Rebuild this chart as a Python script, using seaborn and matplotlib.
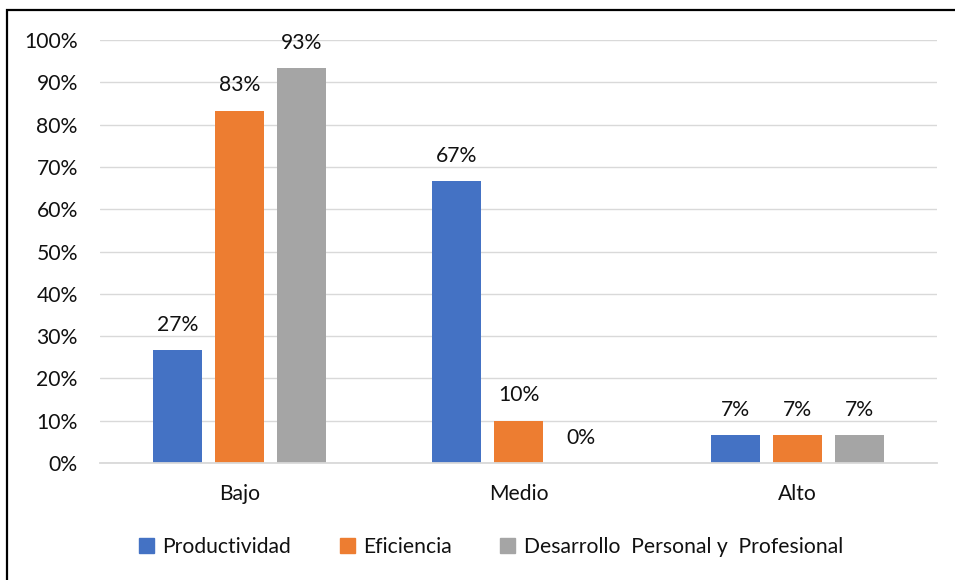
import matplotlib
matplotlib.use("Agg")
import matplotlib.pyplot as plt
import matplotlib.patches as mpatches
from matplotlib.ticker import PercentFormatter
import seaborn as sns
import pandas as pd

categorias = ["Bajo", "Medio", "Alto"]
series = ["Productividad", "Eficiencia", "Desarrollo  Personal y  Profesional"]
productividad = [0.2667, 0.6667, 0.0667]
eficiencia = [0.8333, 0.10, 0.0667]
desarrollo = [0.9333, 0.0, 0.0667]
colores = ["#4472C4", "#ED7D31", "#A5A5A5"]

rows = []
for s, vals in zip(series, [productividad, eficiencia, desarrollo]):
    for c, v in zip(categorias, vals):
        rows.append({"nivel": c, "serie": s, "valor": v})
df = pd.DataFrame(rows)

sns.set_theme(style="white")
plt.rcParams["font.family"] = ["Lato", "DejaVu Sans"]
FS = 15.2

W, H = 955, 580
fig = plt.figure(figsize=(W / 100, H / 100), dpi=100)
ax = fig.add_axes([100 / W, (H - 463) / H, (937 - 100) / W, (463 - 40) / H])

sns.barplot(data=df, x="nivel", y="valor", hue="serie", order=categorias,
            hue_order=series, palette=colores, width=0.667, gap=0.21,
            ax=ax, legend=False, saturation=1, edgecolor="none")

ax.set_ylim(0, 1.0)
ax.set_xlim(-0.5, 2.5)
ax.set_yticks([i / 10 for i in range(11)])
ax.yaxis.set_major_formatter(PercentFormatter(1.0, decimals=0))
ax.grid(axis="y", color="#D9D9D9", linewidth=1.0)
ax.set_axisbelow(True)
for sp in ["top", "right", "left"]:
    ax.spines[sp].set_visible(False)
ax.spines["bottom"].set_color("#D9D9D9")
ax.spines["bottom"].set_linewidth(1.3)
ax.set_xlabel("")
ax.set_ylabel("")
ax.tick_params(axis="both", length=0, labelsize=FS, colors="#111111")
ax.tick_params(axis="y", pad=16)
ax.tick_params(axis="x", pad=15)

for cont in ax.containers:
    ax.bar_label(cont, labels=[f"{round(b.get_height() * 100):.0f}%" for b in cont],
                 padding=11, fontsize=FS, color="#111111")

handles = [mpatches.Patch(color=c, label=s) for c, s in zip(colores, series)]
fig.legend(handles=handles, loc="center", bbox_to_anchor=(491 / W, 1 - 547 / H),
           ncol=3, frameon=False, fontsize=FS, handlelength=0.7, handleheight=0.7,
           handletextpad=0.4, columnspacing=2.3, labelcolor="#111111")

border = mpatches.Rectangle((7 / W, -0.05), 1.1, 1 - 10 / H + 0.05, transform=fig.transFigure,
                            fill=False, edgecolor="black", linewidth=1.6, clip_on=False)
fig.patches.append(border)

fig.savefig("out.png", dpi=100)
